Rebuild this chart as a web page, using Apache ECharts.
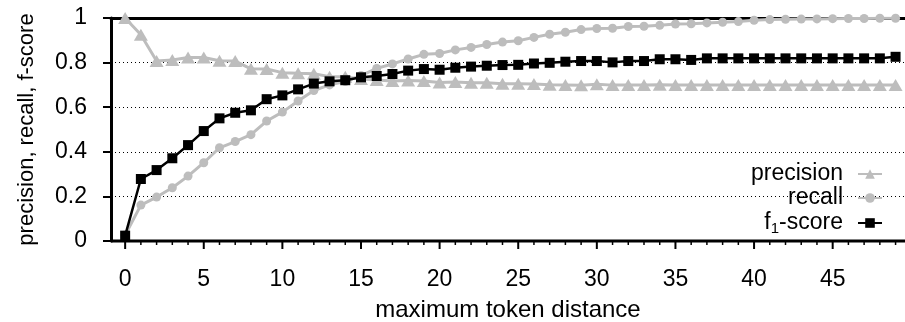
<!DOCTYPE html>
<html>
<head>
<meta charset="utf-8">
<script src="https://cdn.jsdelivr.net/npm/echarts@6/dist/echarts.min.js"></script>
<style>html,body{margin:0;padding:0;background:#fff}#c{width:905px;height:322px}</style>
</head>
<body>
<div id="c"></div>
<script>
const distances = [0,1,2,3,4,5,6,7,8,9,10,11,12,13,14,15,16,17,18,19,20,21,22,23,24,25,26,27,28,29,30,31,32,33,34,35,36,37,38,39,40,41,42,43,44,45,46,47,48,49];
const precision = [1.0,0.925,0.807,0.812,0.823,0.823,0.808,0.807,0.772,0.771,0.755,0.752,0.750,0.737,0.736,0.726,0.722,0.717,0.720,0.718,0.711,0.713,0.710,0.710,0.705,0.705,0.704,0.701,0.700,0.698,0.703,0.699,0.699,0.699,0.701,0.699,0.700,0.700,0.699,0.699,0.699,0.699,0.699,0.700,0.699,0.699,0.699,0.699,0.699,0.699];
const recall = [0.027,0.161,0.197,0.239,0.291,0.351,0.418,0.446,0.477,0.538,0.578,0.628,0.675,0.700,0.715,0.742,0.774,0.794,0.816,0.837,0.841,0.857,0.868,0.881,0.892,0.898,0.913,0.927,0.936,0.948,0.953,0.954,0.962,0.963,0.967,0.973,0.974,0.978,0.981,0.984,0.990,0.993,0.994,0.995,0.996,0.997,0.998,0.998,0.999,0.999];
const f1score = [0.024,0.278,0.318,0.371,0.430,0.493,0.550,0.575,0.586,0.636,0.653,0.680,0.706,0.716,0.721,0.734,0.740,0.749,0.764,0.771,0.768,0.777,0.782,0.786,0.789,0.790,0.796,0.799,0.804,0.807,0.807,0.801,0.807,0.807,0.815,0.815,0.812,0.819,0.819,0.819,0.819,0.819,0.819,0.819,0.819,0.819,0.819,0.819,0.819,0.826];
const xTickStep = 5;
const seriesNames = ['precision','recall','f1-score'];
const xTitle = 'maximum token distance';
const yTitle = 'precision, recall, f-score';

const FONT = 'Liberation Sans, Arial, sans-serif';
const GRAY = '#bdbdbd';
const X_MIN = -0.9, X_MAX = 49.6;
const pairs = arr => distances.map((d,i)=>[d,arr[i]]);

// layout
const W = 905, H = 322;
const gLeft = 111, gRight = 905, gTop = 18, gBottom = 241;
const unit = (gRight - gLeft) / (X_MAX - X_MIN);
const tLeft = gLeft + (0 - X_MIN) * unit;
const tRight = gLeft + (distances[distances.length-1] - X_MIN) * unit;

const chart = echarts.init(document.getElementById('c'));
chart.setOption({
  animation:false,
  textStyle:{fontFamily:FONT},
  title:{text:xTitle, left:(gLeft+gRight)/2, top:298, textAlign:'center', padding:0,
    textStyle:{fontFamily:FONT,fontSize:24,fontWeight:'normal',color:'#000'}},
  grid:[
    {left:gLeft,right:W-gRight,top:gTop,bottom:H-gBottom,containLabel:false,outerBoundsMode:'none'},
    {left:tLeft,right:W-tRight,top:gBottom,bottom:20,containLabel:false,outerBoundsMode:'none'}
  ],
  legend:{
    top:162, right:22,
    orient:'vertical', align:'right',
    padding:0, z:2,
    itemGap:0, itemWidth:24, itemHeight:12,
    data:seriesNames,
    formatter: n => n==='f1-score' ? 'f{sub|1}-score' : n,
    textStyle:{fontFamily:FONT,fontSize:23,lineHeight:24,color:'#000',padding:[0,10,0,0],
      rich:{sub:{fontFamily:FONT,fontSize:15,lineHeight:24,padding:[11,0,0,0],color:'#000'}}}
  },
  xAxis:[{
    gridIndex:0, type:'value', min:X_MIN, max:X_MAX, position:'top',
    axisLine:{show:true,onZero:false,lineStyle:{color:'#000',width:3}},
    axisTick:{show:false}, axisLabel:{show:false}, splitLine:{show:false}
  },{
    gridIndex:1, type:'category', boundaryGap:false, position:'top',
    data:distances.map(String),
    axisLine:{show:false,onZero:false},
    axisTick:{show:false},
    axisLabel:{show:true,inside:true,fontSize:23,color:'#000',margin:27,fontFamily:FONT,interval:(i)=>i%xTickStep===0},
    splitLine:{show:false}
  }],
  yAxis:[{
    gridIndex:0, type:'value', min:0, max:1, interval:0.2,
    name:yTitle, nameLocation:'middle', nameGap:73,
    nameTextStyle:{fontFamily:FONT,fontSize:22,color:'#000'},
    axisLine:{show:true,onZero:false,lineStyle:{color:'#000',width:3}},
    axisTick:{show:true,length:8,lineStyle:{color:'#000',width:2}},
    axisLabel:{fontSize:23,color:'#000',margin:24,fontFamily:FONT},
    splitLine:{show:true,lineStyle:{color:'#000',width:1,type:[1,3]}}
  },{
    gridIndex:1, type:'value', min:0, max:1, show:false
  }],
  series:[{
    name:'precision', type:'line', xAxisIndex:0, yAxisIndex:0, data:pairs(precision),
    symbol:'triangle', symbolSize:[14,12],
    lineStyle:{color:GRAY,width:3}, itemStyle:{color:GRAY}, clip:false
  },{
    name:'recall', type:'line', xAxisIndex:0, yAxisIndex:0, data:pairs(recall),
    symbol:'circle', symbolSize:9,
    lineStyle:{color:GRAY,width:3}, itemStyle:{color:GRAY}
  },{
    name:'f1-score', type:'line', xAxisIndex:0, yAxisIndex:0, data:pairs(f1score),
    symbol:'rect', symbolSize:10, z:5,
    lineStyle:{color:'#000',width:2.5}, itemStyle:{color:'#000'}
  },{
    name:'x-axis', type:'custom', xAxisIndex:0, yAxisIndex:0, z:10, silent:true, clip:false,
    data:distances.map(d=>[d,0]),
    encode:{x:0,y:1},
    renderItem:(params, api)=>{
      const v = api.value(0);
      const p = api.coord([v, 0]);
      const major = v % xTickStep === 0;
      const children = [{type:'line', shape:{x1:p[0],y1:p[1],x2:p[0],y2:p[1]+(major?8:4)},
        style:{stroke:'#000',lineWidth:major?2:1.5}}];
      if (params.dataIndex === 0) {
        const a = api.coord([X_MIN, 0]), b = api.coord([X_MAX, 0]);
        children.push({type:'line', shape:{x1:a[0],y1:a[1],x2:b[0],y2:b[1]},
          style:{stroke:'#000',lineWidth:3}});
      }
      return {type:'group', children};
    }
  }]
});
</script>
</body>
</html>
